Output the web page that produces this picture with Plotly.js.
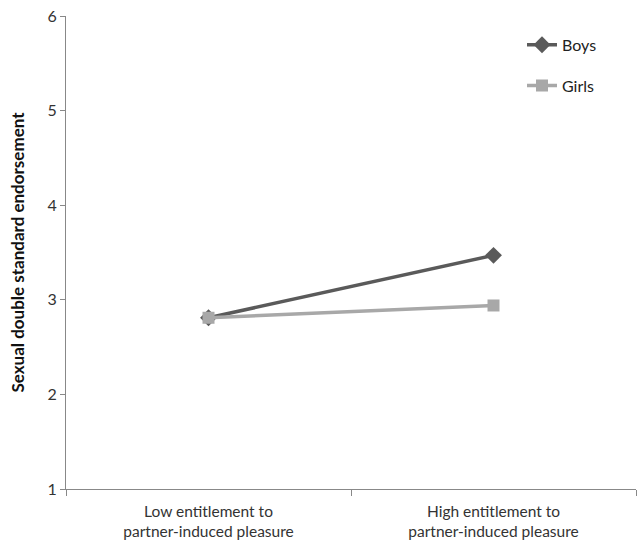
<!DOCTYPE html>
<html><head><meta charset="utf-8">
<script src="https://cdn.plot.ly/plotly-3.0.1.min.js"></script>
<style>body{margin:0;background:#fff}#c{width:637px;height:544px}</style>
</head><body><div id="c"></div>
<script>
const categories = ["Low entitlement to<br>partner-induced pleasure", "High entitlement to<br>partner-induced pleasure"];
const boys = [2.81, 3.47];
const girls = [2.81, 2.94];
const yTicks = [1, 2, 3, 4, 5, 6];

const font = "Lato, 'Open Sans', sans-serif";
const traces = [
  {x: categories, y: boys, name: "Boys", type: "scatter", mode: "lines+markers",
   legendgroup: "a",
   line: {color: "#5a5a5a", width: 3.5}, marker: {symbol: "diamond", size: 13, color: "#5a5a5a"}},
  {x: categories, y: girls, name: "Girls", type: "scatter", mode: "lines+markers",
   legendgroup: "b",
   line: {color: "#a8a8a8", width: 3.5}, marker: {symbol: "square", size: 12, color: "#a8a8a8"}}
];
const layout = {
  width: 637, height: 544,
  margin: {l: 66, r: 1, t: 16, b: 55},
  paper_bgcolor: "#fff", plot_bgcolor: "#fff",
  font: {family: font, color: "#333", size: 15},
  showlegend: true,
  legend: {x: 0.8, y: 0.975, xanchor: "left", yanchor: "top", traceorder: "grouped",
           tracegroupgap: 17, font: {size: 16, color: "#222"}, bgcolor: "rgba(0,0,0,0)"},
  xaxis: {type: "category", range: [-0.5, 1.5], showline: true, linecolor: "#888", linewidth: 1,
          ticks: "outside", tickson: "boundaries", ticklen: 6, tickcolor: "#888", ticklabelstandoff: 8,
          showgrid: false, zeroline: false, tickfont: {size: 15.5, color: "#333"}},
  yaxis: {range: [1, 6], tickvals: yTicks, ticktext: yTicks.map(String), showline: true, linecolor: "#888", linewidth: 1,
          ticks: "outside", ticklen: 5, tickcolor: "#888", showgrid: false, zeroline: false,
          tickfont: {size: 16, color: "#333"},
          title: {text: "<b>Sexual double standard endorsement</b>", font: {size: 17, color: "#111"}, standoff: 18}}
};
Plotly.newPlot("c", traces, layout, {displayModeBar: false});
</script></body></html>
